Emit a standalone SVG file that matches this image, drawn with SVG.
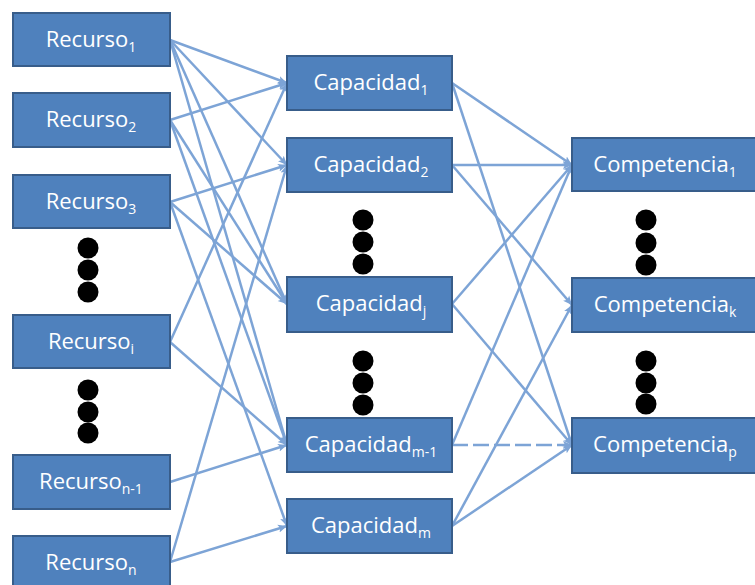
<svg xmlns="http://www.w3.org/2000/svg" width="755" height="585" viewBox="0 0 755 585">
  <defs>
    <style>
      .box { fill: #4F81BD; stroke: #385D8A; stroke-width: 2; }
      .lbl { font-family: "Open Sans", "Liberation Sans", sans-serif; font-size: 22px; fill: #FFFFFF; text-anchor: middle; }
      .sub { font-size: 14px; }
      .dot { fill: #000000; }
      .link { fill: none; stroke: #7DA4D6; stroke-width: 2.5; marker-end: url(#arrow); }
      .dash { stroke-dasharray: 16 5; }
    </style>
    <marker id="arrow" markerUnits="userSpaceOnUse" markerWidth="10" markerHeight="10" refX="9" refY="5" orient="auto">
      <path d="M0,1 L9,5 L0,9 L2,5 Z" fill="#7DA4D6"/>
    </marker>
  </defs>

  <rect width="755" height="585" fill="#FFFFFF"/>

  <!-- connectors -->
  <g id="connectors">
    <!-- resources to capacities -->
    <line class="link" x1="170" y1="40" x2="287" y2="83"/>
    <line class="link" x1="170" y1="40" x2="287" y2="165"/>
    <line class="link" x1="170" y1="40" x2="287" y2="304"/>
    <line class="link" x1="170" y1="40" x2="287" y2="445"/>
    <line class="link" x1="170" y1="120" x2="287" y2="83"/>
    <line class="link" x1="170" y1="120" x2="287" y2="304"/>
    <line class="link" x1="170" y1="120" x2="287" y2="445"/>
    <line class="link" x1="170" y1="202" x2="287" y2="165"/>
    <line class="link" x1="170" y1="202" x2="287" y2="304"/>
    <line class="link" x1="170" y1="202" x2="287" y2="526"/>
    <line class="link" x1="170" y1="342" x2="287" y2="83"/>
    <line class="link" x1="170" y1="342" x2="287" y2="445"/>
    <line class="link" x1="170" y1="482" x2="287" y2="445"/>
    <line class="link" x1="170" y1="562" x2="287" y2="165"/>
    <line class="link" x1="170" y1="562" x2="287" y2="526"/>
    <!-- capacities to competences -->
    <line class="link" x1="452" y1="83" x2="572" y2="165"/>
    <line class="link" x1="452" y1="83" x2="572" y2="445"/>
    <line class="link" x1="452" y1="165" x2="572" y2="165"/>
    <line class="link" x1="452" y1="165" x2="572" y2="305"/>
    <line class="link" x1="452" y1="304" x2="572" y2="165"/>
    <line class="link" x1="452" y1="304" x2="572" y2="445"/>
    <line class="link" x1="452" y1="445" x2="572" y2="165"/>
    <line class="link dash" x1="452" y1="445" x2="572" y2="445"/>
    <line class="link" x1="452" y1="526" x2="572" y2="305"/>
    <line class="link" x1="452" y1="526" x2="572" y2="445"/>
  </g>

  <!-- resources -->
  <g id="recurso-1"><rect class="box" x="13" y="13" width="157" height="53"/><text class="lbl" x="91" y="47">Recurso<tspan class="sub" dy="5">1</tspan></text></g>
  <g id="recurso-2"><rect class="box" x="13" y="93" width="157" height="54"/><text class="lbl" x="91" y="127">Recurso<tspan class="sub" dy="5">2</tspan></text></g>
  <g id="recurso-3"><rect class="box" x="13" y="175" width="157" height="53"/><text class="lbl" x="91" y="209">Recurso<tspan class="sub" dy="5">3</tspan></text></g>
  <g id="recurso-i"><rect class="box" x="13" y="315" width="157" height="53"/><text class="lbl" x="91" y="349">Recurso<tspan class="sub" dy="5">i</tspan></text></g>
  <g id="recurso-n-1"><rect class="box" x="13" y="455" width="157" height="54"/><text class="lbl" x="91" y="489">Recurso<tspan class="sub" dy="5">n-1</tspan></text></g>
  <g id="recurso-n"><rect class="box" x="13" y="536" width="157" height="54"/><text class="lbl" x="91" y="570">Recurso<tspan class="sub" dy="5">n</tspan></text></g>

  <g id="recurso-dots">
    <circle class="dot" cx="88" cy="248" r="10.5"/>
    <circle class="dot" cx="88" cy="270" r="10.5"/>
    <circle class="dot" cx="88" cy="292" r="10.5"/>
    <circle class="dot" cx="88" cy="390" r="10.5"/>
    <circle class="dot" cx="88" cy="412" r="10.5"/>
    <circle class="dot" cx="88" cy="433" r="10.5"/>
  </g>

  <!-- capacities -->
  <g id="capacidad-1"><rect class="box" x="287" y="56" width="165" height="54"/><text class="lbl" x="371" y="90">Capacidad<tspan class="sub" dy="5">1</tspan></text></g>
  <g id="capacidad-2"><rect class="box" x="287" y="138" width="165" height="54"/><text class="lbl" x="371" y="172">Capacidad<tspan class="sub" dy="5">2</tspan></text></g>
  <g id="capacidad-j"><rect class="box" x="287" y="277" width="165" height="55"/><text class="lbl" x="371" y="311">Capacidad<tspan class="sub" dy="5">j</tspan></text></g>
  <g id="capacidad-m-1"><rect class="box" x="287" y="418" width="165" height="54"/><text class="lbl" x="371" y="452">Capacidad<tspan class="sub" dy="5">m-1</tspan></text></g>
  <g id="capacidad-m"><rect class="box" x="287" y="499" width="165" height="54"/><text class="lbl" x="371" y="533">Capacidad<tspan class="sub" dy="5">m</tspan></text></g>

  <g id="capacidad-dots">
    <circle class="dot" cx="363" cy="220" r="10.5"/>
    <circle class="dot" cx="363" cy="242" r="10.5"/>
    <circle class="dot" cx="363" cy="264" r="10.5"/>
    <circle class="dot" cx="363" cy="361" r="10.5"/>
    <circle class="dot" cx="363" cy="383" r="10.5"/>
    <circle class="dot" cx="363" cy="405" r="10.5"/>
  </g>

  <!-- competences -->
  <g id="competencia-1"><rect class="box" x="572" y="138" width="186" height="53"/><text class="lbl" x="665" y="172">Competencia<tspan class="sub" dy="5">1</tspan></text></g>
  <g id="competencia-k"><rect class="box" x="572" y="278" width="186" height="54"/><text class="lbl" x="665" y="312">Competencia<tspan class="sub" dy="5">k</tspan></text></g>
  <g id="competencia-p"><rect class="box" x="572" y="418" width="186" height="55"/><text class="lbl" x="665" y="452">Competencia<tspan class="sub" dy="5">p</tspan></text></g>

  <g id="competencia-dots">
    <circle class="dot" cx="646" cy="220" r="10.5"/>
    <circle class="dot" cx="646" cy="243" r="10.5"/>
    <circle class="dot" cx="646" cy="265" r="10.5"/>
    <circle class="dot" cx="646" cy="361" r="10.5"/>
    <circle class="dot" cx="646" cy="383" r="10.5"/>
    <circle class="dot" cx="646" cy="404" r="10.5"/>
  </g>
</svg>
